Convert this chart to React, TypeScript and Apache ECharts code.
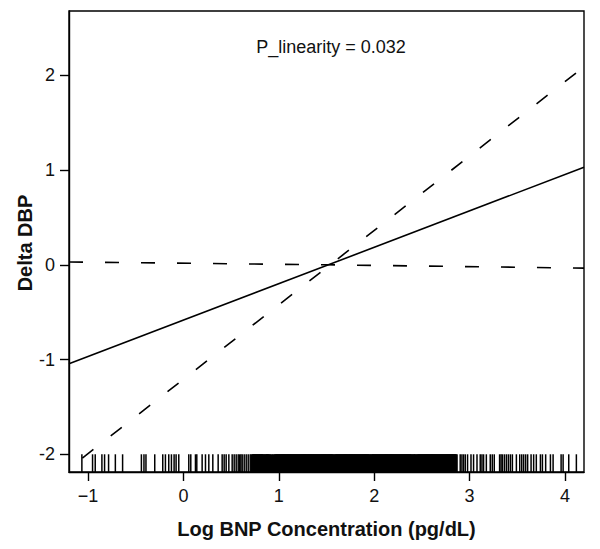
import React, { useEffect, useRef } from "react";
import * as echarts from "echarts";

// Axis ranges and ticks
const xMin = -1.2;
const xMax = 4.2;
const yMin = -2.187;
const yMax = 2.679;
const xTicks = [-1, 0, 1, 2, 3, 4];
const yTicks = [-2, -1, 0, 1, 2];
const rugTop = -2.0;

// Fitted line (solid) and two dashed lines
const fitX = [-1.2, 4.2];
const fitY = [-1.045, 1.03];
const steepX = [-1.06, 4.2];
const steepY = [-2.04, 2.09];
const flatX = [-1.2, 1.5, 4.2];
const flatY = [0.03, 0.0, -0.035];

// Rug values (observations of log BNP)
const rugSparseLow = [
  -1.065, -0.953, -0.925, -0.855, -0.827, -0.785, -0.714, -0.638, -0.441, -0.414,
  -0.393, -0.301, -0.217, -0.189, -0.154, -0.126, -0.098, -0.077, -0.049, 0.056,
  0.077, 0.126, 0.14, 0.196, 0.231, 0.266, 0.308, 0.364, 0.406, 0.427,
  0.448, 0.476, 0.511, 0.532, 0.553, 0.574, 0.588, 0.602, 0.616, 0.637,
  0.658, 0.679, 0.7,
];
const rugDense = [
  0.72, 0.73, 0.74, 0.75, 0.76, 0.77, 0.78, 0.79, 0.8, 0.81, 0.82, 0.83, 0.84,
  0.86, 0.87, 0.88, 0.89, 0.9, 0.92, 0.94, 0.96, 0.97, 0.98, 0.99,
  1.0, 1.01, 1.02, 1.03, 1.04, 1.05, 1.06, 1.07, 1.08, 1.09,
  1.1, 1.11, 1.12, 1.13, 1.14, 1.15, 1.16, 1.17, 1.18, 1.19,
  1.2, 1.21, 1.22, 1.23, 1.24, 1.25, 1.26, 1.27, 1.28, 1.29,
  1.3, 1.31, 1.32, 1.33, 1.34, 1.35, 1.36, 1.37, 1.38, 1.39,
  1.4, 1.41, 1.42, 1.43, 1.44, 1.45, 1.46, 1.47, 1.48, 1.49,
  1.5, 1.51, 1.52, 1.53, 1.54, 1.55, 1.56, 1.57, 1.59,
  1.6, 1.61, 1.62, 1.63, 1.64, 1.65, 1.66, 1.67, 1.68, 1.69,
  1.7, 1.71, 1.72, 1.73, 1.74, 1.75, 1.76, 1.77, 1.78, 1.79,
  1.8, 1.81, 1.82, 1.83, 1.84, 1.85, 1.86, 1.87, 1.88, 1.89,
  1.9, 1.91, 1.92, 1.93, 1.94, 1.95, 1.97, 1.98, 1.99,
  2.0, 2.01, 2.02, 2.03, 2.04, 2.05, 2.06, 2.07, 2.08, 2.09,
  2.1, 2.11, 2.12, 2.13, 2.14, 2.15, 2.16, 2.17, 2.18, 2.19,
  2.2, 2.21, 2.22, 2.23, 2.24, 2.25, 2.26, 2.27, 2.28, 2.29,
  2.3, 2.31, 2.32, 2.33, 2.34, 2.35, 2.36, 2.37, 2.38, 2.39,
  2.41, 2.42, 2.43, 2.45, 2.46, 2.47, 2.48, 2.49,
  2.5, 2.51, 2.52, 2.53, 2.54, 2.55, 2.56, 2.57, 2.58, 2.59,
  2.6, 2.61, 2.62, 2.63, 2.64, 2.65, 2.66, 2.67, 2.68, 2.69,
  2.7, 2.71, 2.72, 2.73, 2.74, 2.75, 2.76, 2.77, 2.78, 2.79,
  2.8, 2.81, 2.82, 2.83, 2.84, 2.85, 2.86,
];
const rugSparseHigh = [
  2.902, 2.92, 2.937, 2.955, 2.979, 3.015, 3.042, 3.078, 3.112, 3.13,
  3.147, 3.176, 3.217, 3.238, 3.259, 3.315, 3.33, 3.344, 3.365, 3.386,
  3.407, 3.428, 3.449, 3.491, 3.526, 3.547, 3.567, 3.588, 3.609, 3.645,
  3.672, 3.7, 3.743, 3.764, 3.798, 3.848, 3.876, 3.96, 3.981, 4.04, 4.12,
];

const xTitle = "Log BNP Concentration (pg/dL)";
const yTitle = "Delta DBP";
const annotation = "P_linearity = 0.032";

const FONT = "'Liberation Sans', Arial, Helvetica, sans-serif";

function rugSeries(values: number[], width: number) {
  return {
    type: "custom",
    data: values.map((v) => [v, yMin]),
    encode: { x: 0, y: 1 },
    z: 2,
    renderItem: (_params: any, api: any) => {
      const x = api.value(0);
      const p1 = api.coord([x, yMin]);
      const p2 = api.coord([x, rugTop]);
      return {
        type: "line",
        shape: { x1: p1[0], y1: p1[1], x2: p2[0], y2: p2[1] },
        style: { stroke: "#000", lineWidth: width },
      };
    },
  };
}

export default function App() {
  const ref = useRef<HTMLDivElement>(null);

  useEffect(() => {
    if (!ref.current) return;
    const chart = echarts.init(ref.current, null, { renderer: "svg" });
    const zip = (xs: number[], ys: number[]) => xs.map((x, i) => [x, ys[i]]);

    chart.setOption({
      animation: false,
      backgroundColor: "#fff",
      grid: {
        left: 69,
        right: 16,
        top: 11,
        bottom: 77,
        show: true,
        borderColor: "#000",
        borderWidth: 1.4,
        containLabel: false,
      },
      xAxis: {
        type: "value",
        min: xMin,
        max: xMax,
        name: xTitle,
        nameLocation: "middle",
        nameGap: 47,
        nameTextStyle: { fontFamily: FONT, fontSize: 20, fontWeight: "bold", color: "#111" },
        axisLine: { show: true, onZero: false, lineStyle: { color: "#000", width: 1.4 } },
        axisTick: { show: true, length: 9, customValues: xTicks, lineStyle: { color: "#000", width: 1.4 } },
        axisLabel: {
          customValues: xTicks,
          margin: 15,
          fontFamily: FONT,
          fontSize: 18,
          color: "#111",
          formatter: (v: number) => (v < 0 ? "\u2212" + Math.abs(v) : String(v)),
        },
        splitLine: { show: false },
      },
      yAxis: {
        type: "value",
        min: yMin,
        max: yMax,
        axisLine: { show: true, onZero: false, lineStyle: { color: "#000", width: 1.4 } },
        axisTick: { show: true, length: 9, customValues: yTicks, lineStyle: { color: "#000", width: 1.4 } },
        axisLabel: {
          customValues: yTicks,
          margin: 14,
          fontFamily: FONT,
          fontSize: 18,
          color: "#111",
          formatter: (v: number) => String(v),
        },
        splitLine: { show: false },
      },
      graphic: [
        {
          type: "text",
          x: 331,
          y: 47,
          style: {
            text: annotation,
            fontFamily: FONT,
            fontSize: 18,
            fill: "#111",
            textAlign: "center",
            textVerticalAlign: "middle",
          },
        },
        {
          type: "text",
          x: 25,
          y: 243,
          rotation: Math.PI / 2,
          style: {
            text: yTitle,
            fontFamily: FONT,
            fontSize: 20,
            fontWeight: "bold",
            fill: "#111",
            textAlign: "center",
            textVerticalAlign: "middle",
          },
        },
      ],
      series: [
        {
          type: "line",
          data: zip(fitX, fitY),
          showSymbol: false,
          symbol: "none",
          lineStyle: { color: "#000", width: 1.6, type: "solid" },
          z: 3,
        },
        {
          type: "line",
          data: zip(steepX, steepY),
          showSymbol: false,
          symbol: "none",
          lineStyle: { color: "#000", width: 1.6, type: [14, 22] },
          z: 3,
        },
        {
          type: "line",
          data: zip(flatX, flatY),
          showSymbol: false,
          symbol: "none",
          lineStyle: { color: "#000", width: 1.6, type: [14, 22] },
          z: 3,
        },
        rugSeries(rugSparseLow, 1.5),
        rugSeries(rugDense, 3.2),
        rugSeries(rugSparseHigh, 1.5),
      ],
    });
    return () => chart.dispose();
  }, []);

  return (
    <div
      ref={ref}
      style={{ position: "fixed", left: 0, top: 0, width: 600, height: 549, background: "#fff" }}
    />
  );
}
